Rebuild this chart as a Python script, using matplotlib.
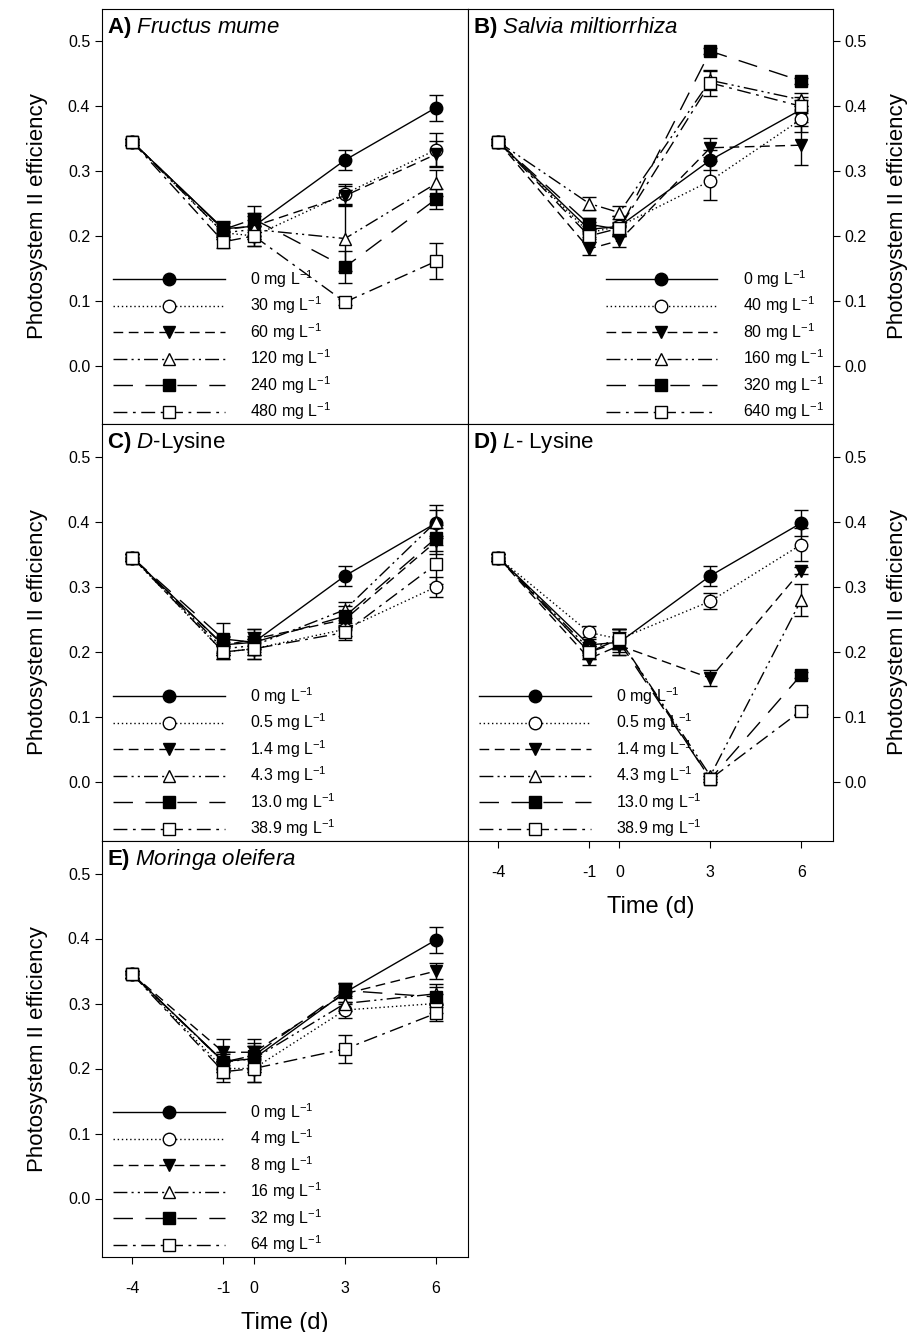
import numpy as np
import matplotlib.pyplot as plt

plt.rcParams['font.family'] = ['Liberation Sans', 'DejaVu Sans']
plt.rcParams['mathtext.fontset'] = 'custom'
plt.rcParams['mathtext.rm'] = 'Liberation Sans'
plt.rcParams['mathtext.it'] = 'Liberation Sans:italic'
plt.rcParams['mathtext.bf'] = 'Liberation Sans:bold'

# ---- data ----
days = [-4, -1, 0, 3, 6]

a_labels = ['0', '30', '60', '120', '240', '480']
a_vals = [[0.345, 0.211, 0.215, 0.317, 0.398],
          [0.345, 0.205, 0.200, 0.265, 0.333],
          [0.345, 0.210, 0.215, 0.262, 0.326],
          [0.345, 0.205, 0.210, 0.196, 0.281],
          [0.345, 0.210, 0.226, 0.152, 0.257],
          [0.345, 0.191, 0.200, 0.098, 0.161]]
a_err = [[0.005, 0.012, 0.02, 0.015, 0.02],
         [0.005, 0.01, 0.015, 0.015, 0.025],
         [0.005, 0.01, 0.015, 0.015, 0.02],
         [0.005, 0.01, 0.015, 0.05, 0.02],
         [0.005, 0.012, 0.02, 0.025, 0.015],
         [0.005, 0.01, 0.015, 0.005, 0.028]]

b_labels = ['0', '40', '80', '160', '320', '640']
b_vals = [[0.345, 0.210, 0.215, 0.317, 0.395],
          [0.345, 0.205, 0.215, 0.285, 0.380],
          [0.345, 0.180, 0.193, 0.336, 0.340],
          [0.345, 0.250, 0.236, 0.440, 0.410],
          [0.345, 0.218, 0.210, 0.485, 0.439],
          [0.345, 0.200, 0.212, 0.436, 0.400]]
b_err = [[0.005, 0.012, 0.015, 0.015, 0.02],
         [0.005, 0.01, 0.015, 0.03, 0.02],
         [0.005, 0.01, 0.01, 0.015, 0.03],
         [0.005, 0.01, 0.01, 0.015, 0.01],
         [0.005, 0.01, 0.01, 0.005, 0.005],
         [0.005, 0.01, 0.01, 0.02, 0.01]]

c_labels = ['0', '0.5', '1.4', '4.3', '13.0', '38.9']
c_vals = [[0.345, 0.211, 0.215, 0.317, 0.398],
          [0.345, 0.200, 0.205, 0.235, 0.300],
          [0.345, 0.210, 0.220, 0.250, 0.370],
          [0.345, 0.205, 0.210, 0.265, 0.400],
          [0.345, 0.220, 0.215, 0.255, 0.375],
          [0.345, 0.200, 0.205, 0.230, 0.335]]
c_err = [[0.005, 0.012, 0.02, 0.015, 0.02],
         [0.005, 0.01, 0.015, 0.01, 0.015],
         [0.005, 0.015, 0.015, 0.012, 0.02],
         [0.005, 0.01, 0.015, 0.012, 0.025],
         [0.005, 0.025, 0.015, 0.015, 0.02],
         [0.005, 0.01, 0.015, 0.012, 0.03]]

d_labels = c_labels
d_vals = [[0.345, 0.211, 0.215, 0.317, 0.398],
          [0.345, 0.230, 0.220, 0.278, 0.365],
          [0.345, 0.190, 0.210, 0.160, 0.325],
          [0.345, 0.205, 0.220, 0.010, 0.280],
          [0.345, 0.200, 0.215, 0.005, 0.165],
          [0.345, 0.200, 0.220, 0.005, 0.110]]
d_err = [[0.005, 0.012, 0.02, 0.015, 0.02],
         [0.005, 0.01, 0.015, 0.012, 0.025],
         [0.005, 0.01, 0.015, 0.012, 0.005],
         [0.005, 0.01, 0.015, 0.005, 0.025],
         [0.005, 0.01, 0.015, 0.005, 0.005],
         [0.005, 0.01, 0.015, 0.005, 0.005]]

e_labels = ['0', '4', '8', '16', '32', '64']
e_vals = [[0.345, 0.211, 0.215, 0.317, 0.398],
          [0.345, 0.200, 0.200, 0.290, 0.300],
          [0.345, 0.225, 0.225, 0.315, 0.350],
          [0.345, 0.210, 0.215, 0.300, 0.315],
          [0.345, 0.210, 0.220, 0.320, 0.310],
          [0.345, 0.195, 0.200, 0.230, 0.285]]
e_err = [[0.005, 0.012, 0.02, 0.015, 0.02],
         [0.005, 0.015, 0.02, 0.012, 0.015],
         [0.005, 0.02, 0.02, 0.015, 0.012],
         [0.005, 0.015, 0.02, 0.012, 0.015],
         [0.005, 0.015, 0.02, 0.012, 0.015],
         [0.005, 0.015, 0.02, 0.022, 0.012]]

styles = [('-', 'o', 'black'),
          ((0, (1, 2)), 'o', 'white'),
          ((0, (7, 4)), 'v', 'black'),
          ((0, (10, 3, 1.5, 3, 1.5, 3)), '^', 'white'),
          ((0, (14, 9)), 's', 'black'),
          ((0, (10, 4, 2, 4)), 's', 'white')]

W, H = 922, 1332
fig = plt.figure(figsize=(W / 100, H / 100), dpi=100)

def box(x0, y0, x1, y1):
    return [x0 / W, 1 - y1 / H, (x1 - x0) / W, (y1 - y0) / H]

panels = [
    ('A', box(102, 9, 468, 424), r'$\bf{A)}$ $\it{Fructus\ mume}$', a_labels, a_vals, a_err, 'left', False, 'lower left'),
    ('B', box(468, 9, 833, 424), r'$\bf{B)}$ $\it{Salvia\ miltiorrhiza}$', b_labels, b_vals, b_err, 'right', False, 'lower right'),
    ('C', box(102, 424, 468, 841), r'$\bf{C)}$ $\it{D}$-Lysine', c_labels, c_vals, c_err, 'left', False, 'lower left'),
    ('D', box(468, 424, 833, 841), r'$\bf{D)}$ $\it{L}$- Lysine', d_labels, d_vals, d_err, 'right', True, 'lower left'),
    ('E', box(102, 841, 468, 1257), r'$\bf{E)}$ $\it{Moringa\ oleifera}$', e_labels, e_vals, e_err, 'left', True, 'lower left'),
]

for key, rect, title, labels, vals, errs, side, xt, loc in panels:
    ax = fig.add_axes(rect)
    for lab, v, e, (ls, mk, fc) in zip(labels, vals, errs, styles):
        ax.errorbar(days, v, yerr=e, color='black', ls=ls, lw=1, marker=mk,
                    ms=9, mfc=fc, mec='black', mew=1, capsize=5, elinewidth=1,
                    label=lab + r' mg L$^{-1}$')
    ax.set_xlim(-5, 7.05)
    ax.set_ylim(-0.09, 0.55)
    ax.set_yticks([0.0, 0.1, 0.2, 0.3, 0.4, 0.5])
    ax.set_yticklabels(['0.0', '0.1', '0.2', '0.3', '0.4', '0.5'])
    ax.tick_params(direction='out', length=5, labelsize=11.5)
    if side == 'right':
        ax.yaxis.tick_right()
        ax.yaxis.set_label_position('right')
    ax.set_ylabel('Photosystem II efficiency', fontsize=16, labelpad=14)
    if xt:
        ax.set_xticks(days)
        ax.set_xticklabels([str(d) for d in days])
        ax.tick_params(axis='x', pad=12)
        ax.set_xlabel('Time (d)', fontsize=17, labelpad=12)
    else:
        ax.set_xticks([])
    ax.text(0.015, 0.985, title, transform=ax.transAxes, fontsize=16,
            va='top', ha='left')
    handles, lbls = ax.get_legend_handles_labels()
    handles = [h[0] for h in handles]
    anchor = (0.98, 0.0) if loc == 'lower right' else (0.025, 0.0)
    ax.legend(handles, lbls, loc=loc, bbox_to_anchor=anchor, frameon=False,
              fontsize=11.5, handlelength=7, handletextpad=1.6,
              labelspacing=0.3, borderaxespad=0.0, borderpad=0.1)

fig.savefig('out.png', dpi=100)
